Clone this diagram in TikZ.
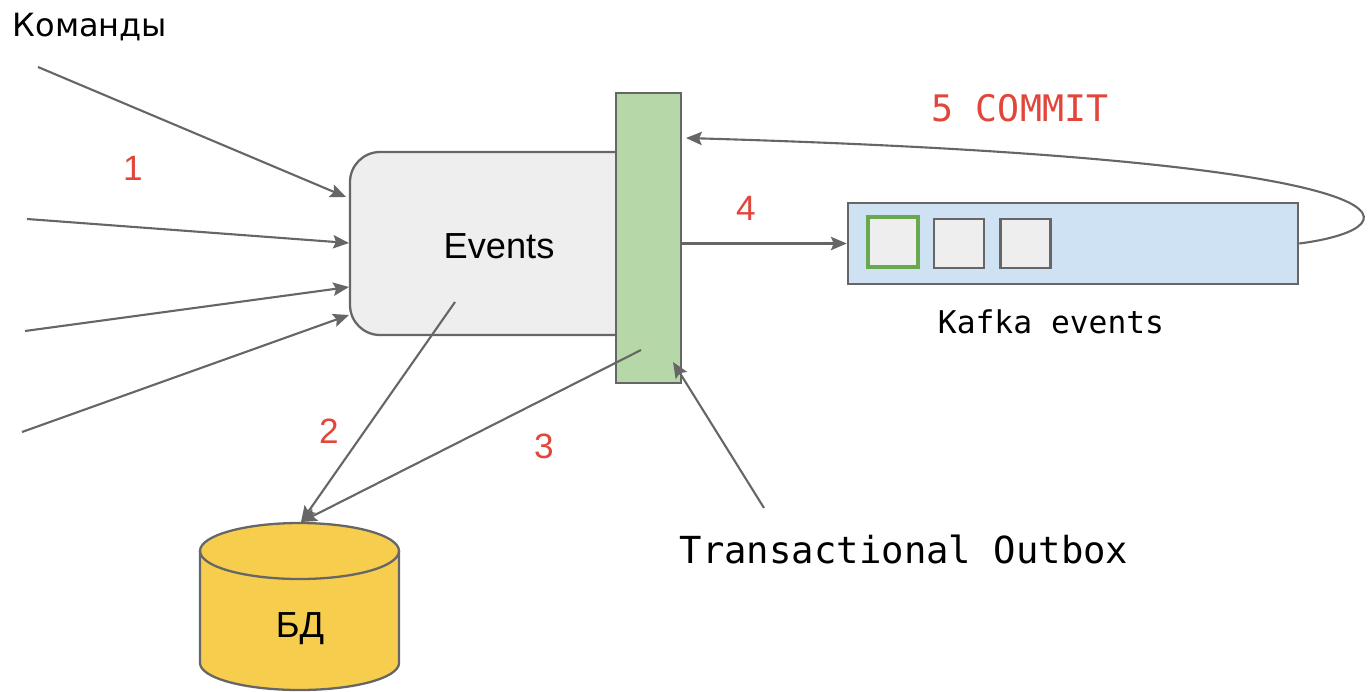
\documentclass[tikz,border=0pt]{standalone}
\usepackage{fontspec}
\setmainfont{Liberation Sans}
\newfontfamily\cyrfont{DejaVu Sans}
\newfontfamily\monofont{DejaVu Sans Mono}
\usetikzlibrary{arrows.meta}
\definecolor{lineg}{HTML}{666666}
\definecolor{evfill}{HTML}{EEEEEE}
\definecolor{outgreen}{HTML}{B6D7A8}
\definecolor{kblue}{HTML}{CFE2F3}
\definecolor{dbyellow}{HTML}{F6CD4C}
\definecolor{sqgreen}{HTML}{6AA84F}
\definecolor{numred}{HTML}{E2463B}
\tikzset{
  conn/.style={draw=lineg, line width=0.6pt, -{Stealth[length=4.5pt,width=3.8pt,inset=0.8pt]}},
  boxline/.style={draw=lineg, line width=0.65pt},
  num/.style={text=numred, font=\fontsize{10}{12}\selectfont, inner sep=0pt, anchor=base},
  plain/.style={inner sep=0pt, anchor=base},
}
\begin{document}
\begin{tikzpicture}[x=0.01cm, y=-0.01cm]
\useasboundingbox (0,0) rectangle (1368,691);
% Events box (left corners rounded)
\path[boxline, fill=evfill, rounded corners=0.3cm] (630,152) -- (350,152) -- (350,335) -- (630,335);
\node[plain, font=\fontsize{10.3}{12}\selectfont] (events) at (499,258) {Events};
% Outbox bar
\node[boxline, fill=outgreen, inner sep=0pt, minimum width=0.65cm, minimum height=2.9cm] (outbox) at (648.5,238) {};
% Kafka box
\node[boxline, fill=kblue, inner sep=0pt, minimum width=4.5cm, minimum height=0.81cm] (kafka) at (1073,243.5) {};
\node[draw=sqgreen, line width=0.9pt, fill=evfill, inner sep=0pt, minimum size=0.5cm] (sq1) at (893,242) {};
\node[boxline, fill=evfill, inner sep=0pt, minimum width=0.5cm, minimum height=0.49cm] (sq2) at (959,243.5) {};
\node[boxline, fill=evfill, inner sep=0pt, minimum width=0.5cm, minimum height=0.49cm] (sq3) at (1025.5,243.5) {};
\node[plain, font=\monofont\fontsize{8.9}{11}\selectfont] (kafkalbl) at (1051,333) {Kafka events};
% DB cylinder
\path[boxline, fill=dbyellow] (200,551) -- (200,663) arc[start angle=180, end angle=0, x radius=99.5, y radius=27] -- (399,551) arc[start angle=360, end angle=180, x radius=99.5, y radius=28] -- cycle;
\draw[boxline] (200,551) arc[start angle=180, end angle=0, x radius=99.5, y radius=28];
\node[plain, font=\fontsize{10.3}{12}\selectfont] (db) at (300,637) {БД};
\coordinate (dbtop) at (301,522);
% Labels
\node[plain, anchor=base west, font=\cyrfont\fontsize{9.1}{11}\selectfont] (cmd) at (12,37) {Команды};
\node[plain, font=\monofont\fontsize{10.6}{13}\selectfont] (tolbl) at (904,563) {Transactional Outbox};
\node[num, font=\monofont\fontsize{10.4}{13}\selectfont] (commit) at (1020,122) {5 COMMIT};
\node[num] (n1) at (133,180) {1};
\node[num] (n2) at (329,443) {2};
\node[num] (n3) at (544,458) {3};
\node[num] (n4) at (746,220) {4};
% Input arrows
\coordinate (in1) at (38,67);
\coordinate (in2) at (27,219);
\coordinate (in3) at (25,331);
\coordinate (in4) at (22,432);
\coordinate (e1) at (346,197);
\coordinate (e2) at (349,243);
\coordinate (e3) at (349,287);
\coordinate (e4) at (349,315);
\draw[conn] (in1) -- (e1);
\draw[conn] (in2) -- (e2);
\draw[conn] (in3) -- (e3);
\draw[conn] (in4) -- (e4);
% to DB
\coordinate (s2) at (455,302);
\coordinate (s3) at (641,350);
\draw[conn] (s2) -- (dbtop);
\draw[conn] (s3) -- (dbtop);
% outbox to kafka
\draw[conn] (outbox.east |- kafka.west) -- (kafka.west);
% commit loop
\coordinate (tip5) at (686,138);
\draw[conn] (kafka.east) .. controls (1420,228) and (1445,160) .. (tip5);
% transactional outbox pointer
\coordinate (tostart) at (764,508);
\coordinate (totip) at (673,362);
\draw[conn] (tostart) -- (totip);
\end{tikzpicture}
\end{document}
